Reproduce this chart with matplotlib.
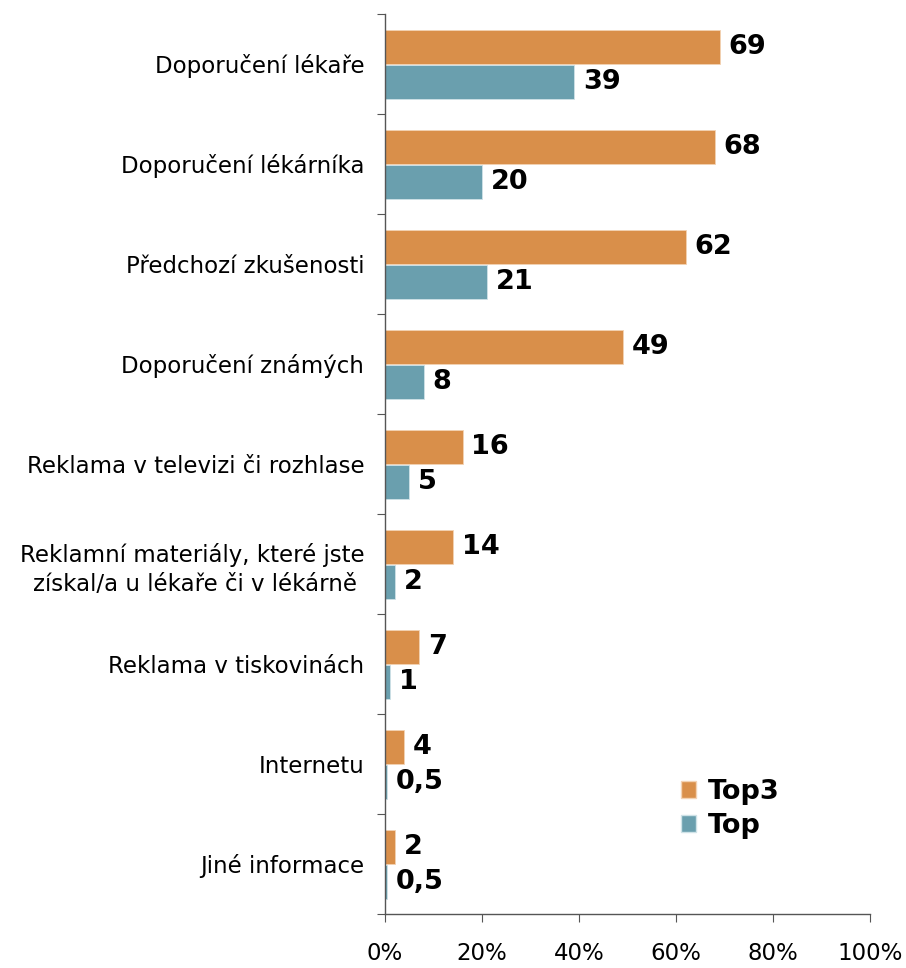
import numpy as np
import matplotlib.pyplot as plt
from matplotlib.patches import Patch

# Sources of information (survey answers, %)
categories = [
    'Doporučení lékaře',
    'Doporučení lékárníka',
    'Předchozí zkušenosti',
    'Doporučení známých',
    'Reklama v televizi či rozhlase',
    'Reklamní materiály, které jste\nzískal/a u lékaře či v lékárně ',
    'Reklama v tiskovinách',
    'Internetu',
    'Jiné informace',
]
top3 = [69, 68, 62, 49, 16, 14, 7, 4, 2]
top = [39, 20, 21, 8, 5, 2, 1, 0.5, 0.5]
top3_labels = ['69', '68', '62', '49', '16', '14', '7', '4', '2']
top_labels = ['39', '20', '21', '8', '5', '2', '1', '0,5', '0,5']

orange = '#D98F4A'
teal = '#6A9FAE'

plt.rcParams['font.family'] = 'DejaVu Sans'

fig = plt.figure(figsize=(9.06, 9.68), dpi=100)
ax = fig.add_axes([385 / 906, 1 - 914 / 968, 485 / 906, 900 / 968])

n = len(categories)
y = np.arange(n)
h = 0.34
ax.barh(y - h / 2 - 0.005, top3, height=h, color=orange, edgecolor='#F3D2B3', linewidth=0.6)
ax.barh(y + h / 2 + 0.005, top, height=h, color=teal, edgecolor='#CFE2E7', linewidth=0.6)

for i in range(n):
    ax.text(top3[i] + 1.8, y[i] - h / 2, top3_labels[i], va='center', ha='left',
            fontsize=19.5, fontweight='bold')
    ax.text(top[i] + 1.8, y[i] + h / 2 + 0.01, top_labels[i], va='center', ha='left',
            fontsize=19.5, fontweight='bold')

ax.set_xlim(0, 100)
ax.set_ylim(n - 0.5, -0.5)
ax.set_xticks(range(0, 101, 20))
ax.set_xticklabels([f'{v}%' for v in range(0, 101, 20)], fontsize=16.5)
ax.set_yticks(np.arange(-0.5, n, 1.0))
ax.set_yticklabels([])
ax.set_yticks(y, minor=True)
ax.set_yticklabels(categories, minor=True, fontsize=16.5)
for t in ax.get_yticklabels(minor=True):
    t.set_linespacing(1.35)
ax.tick_params(axis='y', which='minor', length=0, pad=15)
ax.tick_params(axis='y', which='major', length=6, color='#555555', direction='out')
ax.tick_params(axis='x', length=6, color='#555555', direction='out', pad=14)

for s in ['top', 'right']:
    ax.spines[s].set_visible(False)
for s in ['left', 'bottom']:
    ax.spines[s].set_color('#555555')
    ax.spines[s].set_linewidth(1.0)

handles = [Patch(facecolor=orange, edgecolor='#F3D2B3'), Patch(facecolor=teal, edgecolor='#CFE2E7')]
ax.legend(handles, ['Top3', 'Top'], loc='upper left', bbox_to_anchor=(0.61, 0.15),
          frameon=False, prop={'weight': 'bold', 'size': 19.5}, handlelength=0.55,
          handleheight=0.55, handletextpad=0.45, labelspacing=0.3,
          borderpad=0, borderaxespad=0)

fig.savefig('out.png', dpi=100)
